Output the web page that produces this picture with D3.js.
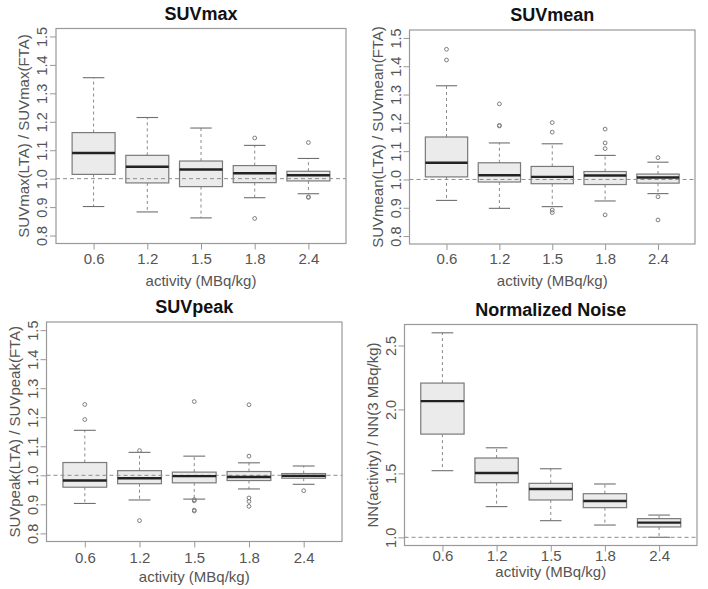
<!DOCTYPE html>
<html><head><meta charset="utf-8">
<script src="https://cdn.jsdelivr.net/npm/d3@7"></script>
<style>
html,body{margin:0;padding:0;background:#fff;}
svg{display:block;font-family:"Liberation Sans",Arial,sans-serif;}
</style></head>
<body><svg id="chart" width="708" height="589"></svg>
<script>
// ---------- data ----------
const categories = ["0.6", "1.2", "1.5", "1.8", "2.4"];
const xLabel = "activity (MBq/kg)";
const titles = ["SUVmax", "SUVmean", "SUVpeak", "Normalized Noise"];
const yLabels = ["SUVmax(LTA) / SUVmax(FTA)", "SUVmean(LTA) / SUVmean(FTA)",
                 "SUVpeak(LTA) / SUVpeak(FTA)", "NN(activity) / NN(3 MBq/kg)"];
const ratioTicks = [0.8, 0.9, 1.0, 1.1, 1.2, 1.3, 1.4, 1.5];
const noiseTicks = [1.0, 1.5, 2.0, 2.5];

// [lower whisker, Q1, median, Q3, upper whisker] per category
const suvmaxBox = [[0.902, 1.015, 1.090, 1.162, 1.355],
                   [0.883, 0.985, 1.042, 1.082, 1.215],
                   [0.862, 0.972, 1.032, 1.062, 1.178],
                   [0.933, 0.986, 1.019, 1.046, 1.117],
                   [0.947, 0.992, 1.012, 1.026, 1.071]];
const suvmaxOut = [[], [], [], [1.143, 0.860], [1.127, 0.936, 0.934]];

const suvmeanBox = [[0.926, 1.009, 1.059, 1.150, 1.331],
                    [0.898, 0.991, 1.015, 1.059, 1.129],
                    [0.904, 0.985, 1.009, 1.046, 1.126],
                    [0.924, 0.982, 1.014, 1.028, 1.085],
                    [0.950, 0.987, 1.007, 1.019, 1.061]];
const suvmeanOut = [[1.460, 1.422], [1.267, 1.191, 1.189],
                    [1.201, 1.167, 0.892, 0.883],
                    [1.178, 1.129, 1.109, 0.875], [1.077, 0.939, 0.857]];

const suvpeakBox = [[0.903, 0.959, 0.982, 1.044, 1.155],
                    [0.915, 0.971, 0.990, 1.016, 1.079],
                    [0.918, 0.974, 0.997, 1.011, 1.066],
                    [0.953, 0.982, 0.994, 1.013, 1.043],
                    [0.969, 0.990, 0.998, 1.006, 1.032]];
const suvpeakOut = [[1.244, 1.192], [1.085, 0.844],
                    [1.254, 0.916, 0.912, 0.880, 0.877],
                    [1.243, 1.066, 0.922, 0.910, 0.893], [0.947]];

const noiseBox = [[1.521, 1.807, 2.065, 2.206, 2.599],
                  [1.240, 1.427, 1.503, 1.620, 1.700],
                  [1.130, 1.292, 1.378, 1.422, 1.536],
                  [1.096, 1.232, 1.284, 1.341, 1.417],
                  [1.000, 1.081, 1.115, 1.146, 1.174]];
const noiseOut = [[], [], [], [], []];

// ---------- layout ----------
const panels = [
  {box: suvmaxBox, out: suvmaxOut, ticks: ratioTicks, ylim: [0.8, 1.5],
   L: 56, R: 346, T: 28.5, B: 243.5, tl: 20, xt: 42, title: titles[0], ylab: yLabels[0]},
  {box: suvmeanBox, out: suvmeanOut, ticks: ratioTicks, ylim: [0.8, 1.5],
   L: 409.5, R: 695, T: 30, B: 244, tl: 20, xt: 42, title: titles[1], ylab: yLabels[1]},
  {box: suvpeakBox, out: suvpeakOut, ticks: ratioTicks, ylim: [0.8, 1.5],
   L: 46.5, R: 342, T: 322, B: 541.5, tl: 21, xt: 40, title: titles[2], ylab: yLabels[2]},
  {box: noiseBox, out: noiseOut, ticks: noiseTicks, ylim: [1.0, 2.6],
   L: 404.5, R: 697, T: 324.5, B: 545.5, tl: 15.5, xt: 31.5, title: titles[3], ylab: yLabels[3]}
];

const svg = d3.select("#chart");
const gray = "#8a8a8a";

panels.forEach(p => {
  const g = svg.append("g");
  const span = p.ylim[1] - p.ylim[0];
  const y = d3.scaleLinear().domain([p.ylim[0] - 0.04 * span, p.ylim[1] + 0.04 * span]).range([p.B, p.T]);
  const x = d3.scaleLinear().domain([0.3, 5.7]).range([p.L, p.R]);
  const xi = i => x(i + 1);
  const bw = x(0.8) - x(0);
  const cw = x(0.4) - x(0);

  // boxes
  p.box.forEach((s, i) => {
    const cx = xi(i);
    const bg = g.append("g");
    bg.append("line").attr("x1", cx).attr("x2", cx).attr("y1", y(s[3])).attr("y2", y(s[4]))
      .attr("stroke", gray).attr("stroke-width", 1).attr("stroke-dasharray", "3,3");
    bg.append("line").attr("x1", cx).attr("x2", cx).attr("y1", y(s[1])).attr("y2", y(s[0]))
      .attr("stroke", gray).attr("stroke-width", 1).attr("stroke-dasharray", "3,3");
    [s[0], s[4]].forEach(v => bg.append("line")
      .attr("x1", cx - cw / 2).attr("x2", cx + cw / 2).attr("y1", y(v)).attr("y2", y(v))
      .attr("stroke", "#6f6f6f").attr("stroke-width", 1.1));
    bg.append("rect").attr("x", cx - bw / 2).attr("width", bw)
      .attr("y", y(s[3])).attr("height", y(s[1]) - y(s[3]))
      .attr("fill", "#ebebeb").attr("stroke", "#7a7a7a").attr("stroke-width", 1.2);
  });

  // reference line
  g.append("line").attr("x1", p.L).attr("x2", p.R).attr("y1", y(1)).attr("y2", y(1))
    .attr("stroke", "#8c8c8c").attr("stroke-width", 1).attr("stroke-dasharray", "4,3");

  // medians
  p.box.forEach((s, i) => {
    const cx = xi(i);
    g.append("line").attr("x1", cx - bw / 2).attr("x2", cx + bw / 2)
      .attr("y1", y(s[2])).attr("y2", y(s[2]))
      .attr("stroke", "#222").attr("stroke-width", 2.4);
  });

  // outliers
  p.out.forEach((arr, i) => arr.forEach(v => {
    g.append("circle").attr("cx", xi(i)).attr("cy", y(v)).attr("r", 1.9)
      .attr("fill", "none").attr("stroke", "#7d7d7d").attr("stroke-width", 1);
  }));

  // frame
  g.append("rect").attr("x", p.L).attr("y", p.T).attr("width", p.R - p.L).attr("height", p.B - p.T)
    .attr("fill", "none").attr("stroke", "#999").attr("stroke-width", 1.2);

  // y axis
  const ya = g.append("g").attr("transform", `translate(${p.L},0)`)
    .call(d3.axisLeft(y).tickValues(p.ticks).tickFormat(d3.format(".1f")).tickSize(6).tickSizeOuter(0));
  ya.select(".domain").remove();
  ya.selectAll(".tick line").attr("stroke", "#999");
  ya.selectAll(".tick text").attr("transform", "rotate(-90)").attr("x", 0).attr("y", -9)
    .attr("dy", "0").attr("text-anchor", "middle")
    .attr("fill", "#555").style("font-size", "14.5px").style("font-family", "Liberation Sans, Arial, sans-serif");

  // x axis
  const xa = g.append("g").attr("transform", `translate(0,${p.B})`)
    .call(d3.axisBottom(x).tickValues([1, 2, 3, 4, 5]).tickFormat((d, i) => categories[i]).tickSize(6).tickSizeOuter(0));
  xa.select(".domain").remove();
  xa.selectAll(".tick line").attr("stroke", "#999");
  xa.selectAll(".tick text").attr("y", p.tl).attr("dy", "0")
    .attr("fill", "#555").style("font-size", "15px").style("font-family", "Liberation Sans, Arial, sans-serif");

  // titles
  const mid = (p.L + p.R) / 2;
  g.append("text").attr("x", mid).attr("y", p.T - 9).attr("text-anchor", "middle")
    .attr("font-weight", "bold").attr("font-size", 18).attr("fill", "#111").text(p.title);
  g.append("text").attr("x", mid).attr("y", p.B + p.xt).attr("text-anchor", "middle")
    .attr("font-size", 15).attr("fill", "#555").text(xLabel);
  g.append("text").attr("transform", `translate(${p.L - 27},${(p.T + p.B) / 2}) rotate(-90)`)
    .attr("text-anchor", "middle").attr("font-size", 15).attr("fill", "#555").text(p.ylab);
});
</script></body></html>
